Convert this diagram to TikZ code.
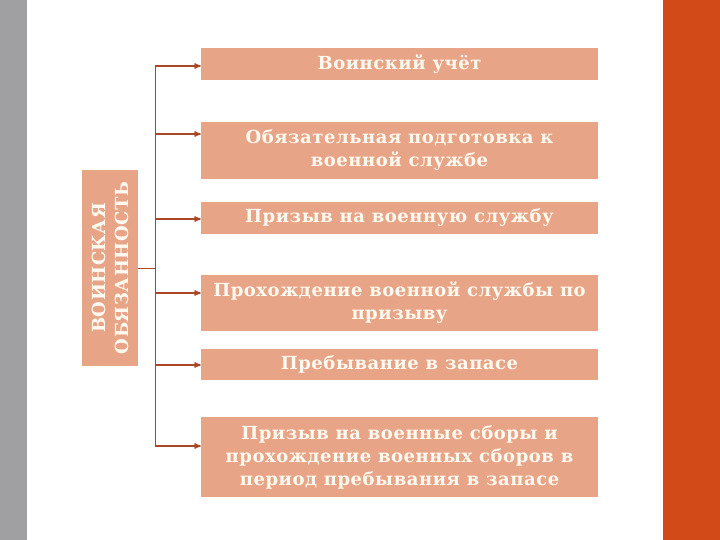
\documentclass[tikz,border=0pt]{standalone}
\usepackage{fontspec}
\setmainfont[LetterSpace=3]{DejaVu Serif}
\usepackage{tikz}
\usetikzlibrary{arrows}
\definecolor{duty-salmon}{RGB}{232,164,135}
\definecolor{duty-brown}{RGB}{168,72,36}
\definecolor{duty-cream}{RGB}{255,250,240}
\definecolor{strip-grey}{RGB}{160,159,161}
\definecolor{strip-orange}{RGB}{210,74,24}
\tikzstyle{duty}=[fill=duty-salmon, text=duty-cream, inner sep=0pt, align=center, font=\bfseries\fontsize{18}{23}\selectfont]
\tikzstyle{item}=[duty, minimum width=397pt]
\tikzstyle{link}=[draw=duty-brown, line width=1.3pt, -stealth']

\begin{document}
\begin{tikzpicture}[x=1pt, y=-1pt]
	\useasboundingbox (0,0) rectangle (720,540);
	\fill[strip-grey] (0,0) rectangle (27,540);
	\fill[strip-orange] (663,0) rectangle (720,540);
	\node[duty, rotate=90, minimum width=195pt, minimum height=56pt] (duty) at (110,268) {ВОИНСКАЯ\\ОБЯЗАННОСТЬ};
	\node[item, minimum height=32pt] (b1) at (399.5,64.5) {Воинский учёт};
	\node[item, minimum height=57pt] (b2) at (399.5,150.5) {Обязательная подготовка к\\военной службе};
	\node[item, minimum height=32pt] (b3) at (399.5,218) {Призыв на военную службу};
	\node[item, minimum height=56pt] (b4) at (399.5,303) {Прохождение военной службы по\\призыву};
	\node[item, minimum height=31pt] (b5) at (399.5,364.5) {Пребывание в запасе};
	\node[item, minimum height=80pt] (b6) at (399.5,457) {Призыв на военные сборы и\\прохождение военных сборов в\\период пребывания в запасе};
	\coordinate (t1) at (155,66);
	\coordinate (t2) at (155,134);
	\coordinate (t3) at (155,219);
	\coordinate (t4) at (155,293);
	\coordinate (t5) at (155,365);
	\coordinate (t6) at (155,446);
	\draw[duty-brown, line width=1pt] (t1) -- (t6);
	\draw[duty-brown, line width=1pt] (duty.south) -- (duty.south -| t1);
	\foreach \i in {1,...,6}
		\draw[link] (t\i) -- (t\i -| b\i.west);
\end{tikzpicture}
\end{document}
